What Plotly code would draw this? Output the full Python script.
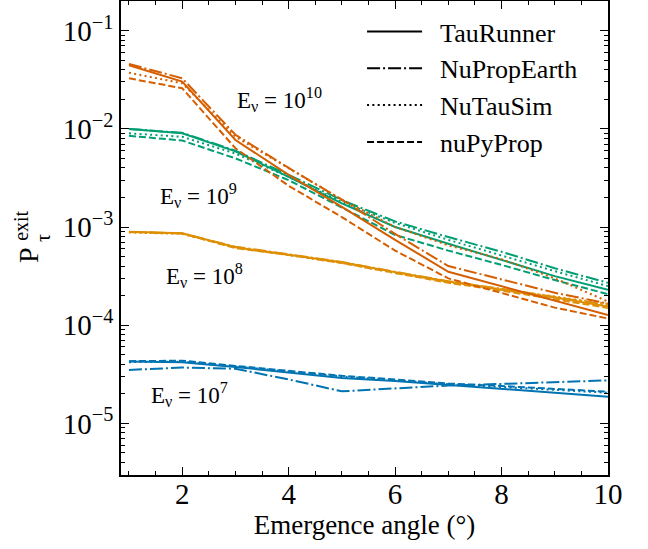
import math
import plotly.graph_objects as go

# ---------------- data ----------------
angles = [1, 2, 3, 4, 5, 6, 7, 8, 9, 10]
models = ["TauRunner", "NuPropEarth", "NuTauSim", "nuPyProp"]

e10_taurunner = [0.0445, 0.0303, 0.0077, 0.0034, 0.0016, 0.00074, 0.00035, 0.00025, 0.00018, 0.000127]
e10_nupropearth = [0.0458, 0.0327, 0.0087, 0.0040, 0.0019, 0.00085, 0.00040, 0.000295, 0.000214, 0.000166]
e10_nutausim = [0.0373, 0.0291, 0.0083, 0.0040, 0.0019, 0.00100, 0.00065, 0.00047, 0.00030, 0.000174]
e10_nupyprop = [0.0327, 0.0259, 0.00634, 0.00263, 0.00126, 0.000575, 0.00030, 0.000214, 0.000151, 0.000117]

e9_taurunner = [0.00998, 0.0090, 0.0059, 0.00324, 0.00174, 0.00100, 0.000676, 0.000462, 0.000316, 0.000229]
e9_nupropearth = [0.00998, 0.0091, 0.0060, 0.0034, 0.00188, 0.00114, 0.00079, 0.00056, 0.00038, 0.000270]
e9_nutausim = [0.0090, 0.0083, 0.0056, 0.00324, 0.00180, 0.00110, 0.00074, 0.00051, 0.000355, 0.00025]
e9_nupyprop = [0.0085, 0.0076, 0.0050, 0.0030, 0.00158, 0.00083, 0.000575, 0.000411, 0.000288, 0.000207]

e8_taurunner = [0.000897, 0.000865, 0.000622, 0.000525, 0.000437, 0.000347, 0.000278, 0.000229, 0.000191, 0.000155]
e8_nupropearth = [0.00089, 0.00086, 0.00063, 0.00053, 0.00044, 0.00035, 0.00028, 0.000235, 0.000195, 0.00016]
e8_nutausim = [0.00088, 0.00085, 0.00062, 0.00052, 0.00043, 0.00034, 0.000275, 0.000232, 0.000197, 0.000165]
e8_nupyprop = [0.00089, 0.00086, 0.00061, 0.00052, 0.00043, 0.00034, 0.00027, 0.000225, 0.000185, 0.00015]

e7_taurunner = [4.26e-5, 4.2e-5, 3.75e-5, 3.3e-5, 2.9e-5, 2.7e-5, 2.45e-5, 2.25e-5, 2.05e-5, 1.87e-5]
e7_nupropearth = [3.5e-5, 3.7e-5, 3.6e-5, 2.8e-5, 2.12e-5, 2.25e-5, 2.43e-5, 2.52e-5, 2.62e-5, 2.74e-5]
e7_nutausim = [4.2e-5, 4.25e-5, 3.8e-5, 3.35e-5, 3.0e-5, 2.75e-5, 2.5e-5, 2.35e-5, 2.2e-5, 2.05e-5]
e7_nupyprop = [4.3e-5, 4.35e-5, 3.85e-5, 3.4e-5, 3.05e-5, 2.8e-5, 2.55e-5, 2.4e-5, 2.25e-5, 2.1e-5]

energy_labels = ["10", "9", "8", "7"]
label_x = [3.83, 2.31, 2.42, 2.14]
label_y = [0.0197, 0.00211, 0.000324, 1.95e-5]

y_tick_vals = [1e-5, 1e-4, 1e-3, 1e-2, 1e-1]
y_tick_text = ["10<sup>−5</sup>", "10<sup>−4</sup>", "10<sup>−3</sup>", "10<sup>−2</sup>", "10<sup>−1</sup>"]
x_tick_vals = [2, 4, 6, 8, 10]

# ---------------- styling ----------------
FONT = "Liberation Serif"
colors = {"10": "#D55E00", "9": "#029E73", "8": "#DE8F05", "7": "#0173B2"}
dashes = {
    "TauRunner": "solid",
    "NuPropEarth": "13px,3px,2px,3px",
    "NuTauSim": "2px,3.3px",
    "nuPyProp": "7px,3px",
}

series = {
    "10": [e10_taurunner, e10_nupropearth, e10_nutausim, e10_nupyprop],
    "9": [e9_taurunner, e9_nupropearth, e9_nutausim, e9_nupyprop],
    "8": [e8_taurunner, e8_nupropearth, e8_nutausim, e8_nupyprop],
    "7": [e7_taurunner, e7_nupropearth, e7_nutausim, e7_nupyprop],
}

fig = go.Figure()
for e in ["7", "8", "9", "10"]:
    for m, vals in zip(models, series[e]):
        fig.add_trace(go.Scatter(
            x=angles, y=vals, mode="lines", showlegend=False,
            line=dict(color=colors[e], width=2, dash=dashes[m]),
        ))

# legend-only black entries
for m in models:
    fig.add_trace(go.Scatter(
        x=[None], y=[None], mode="lines", name="\u00a0\u00a0" + m, showlegend=True,
        line=dict(color="black", width=2, dash=dashes[m]),
    ))

for e, lx, ly in zip(energy_labels, label_x, label_y):
    fig.add_annotation(x=lx, y=math.log10(ly), xref="x", yref="y", yanchor="middle", xanchor="center",
                       text=f"E<sub>ν</sub> = 10<sup>{e}</sup>", showarrow=False,
                       font=dict(family=FONT, size=23, color="black"))

# y-axis title built from pieces (P with stacked sub/superscript)
fig.add_annotation(x=-0.191, y=0.464, xref="paper", yref="paper", text="P", showarrow=False,
                   xanchor="center", yanchor="middle",
                   textangle=-90, font=dict(family=FONT, size=28, color="black"))
fig.add_annotation(x=-0.205, y=0.526, xref="paper", yref="paper", text="exit", showarrow=False,
                   xanchor="center", yanchor="middle",
                   textangle=-90, font=dict(family=FONT, size=20, color="black"))
fig.add_annotation(x=-0.160, y=0.500, xref="paper", yref="paper", text="τ", showarrow=False,
                   xanchor="center", yanchor="middle",
                   textangle=-90, font=dict(family=FONT, size=20, color="black"))

minor_y = [k * 10.0 ** p for p in range(-6, 0) for k in range(2, 10)]

axis_common = dict(
    showline=True, linecolor="black", linewidth=1.6, mirror="allticks",
    ticks="inside", ticklen=8, tickwidth=1.4, tickcolor="black",
    showgrid=False, zeroline=False,
    tickfont=dict(family=FONT, size=29, color="black"),
)

fig.update_xaxes(
    range=[0.85, 10], tickvals=x_tick_vals, ticklabelstandoff=-8,
    minor=dict(ticks="inside", ticklen=4, tickwidth=1.2, tickcolor="black", dtick=0.5, tick0=0),
    title=dict(text="Emergence angle (°)", font=dict(family=FONT, size=27, color="black"), standoff=0),
    **axis_common,
)
fig.update_yaxes(
    type="log", range=[-5.526, -0.698], tickvals=y_tick_vals, ticktext=y_tick_text,
    minor=dict(ticks="inside", ticklen=4, tickwidth=1.2, tickcolor="black", tickvals=minor_y),
    **axis_common,
)

fig.update_layout(
    width=648, height=549,
    margin=dict(l=121, r=40, t=1, b=74, autoexpand=False),
    paper_bgcolor="white", plot_bgcolor="white",
    font=dict(family=FONT, color="black"),
    legend=dict(x=0.495, y=0.985, xanchor="left", yanchor="top", bgcolor="rgba(0,0,0,0)",
                font=dict(family=FONT, size=26, color="black"), tracegroupgap=0, itemwidth=55),
)

fig.write_html("out.html", config={"displayModeBar": False},
               post_script="document.body.style.margin='0';")
